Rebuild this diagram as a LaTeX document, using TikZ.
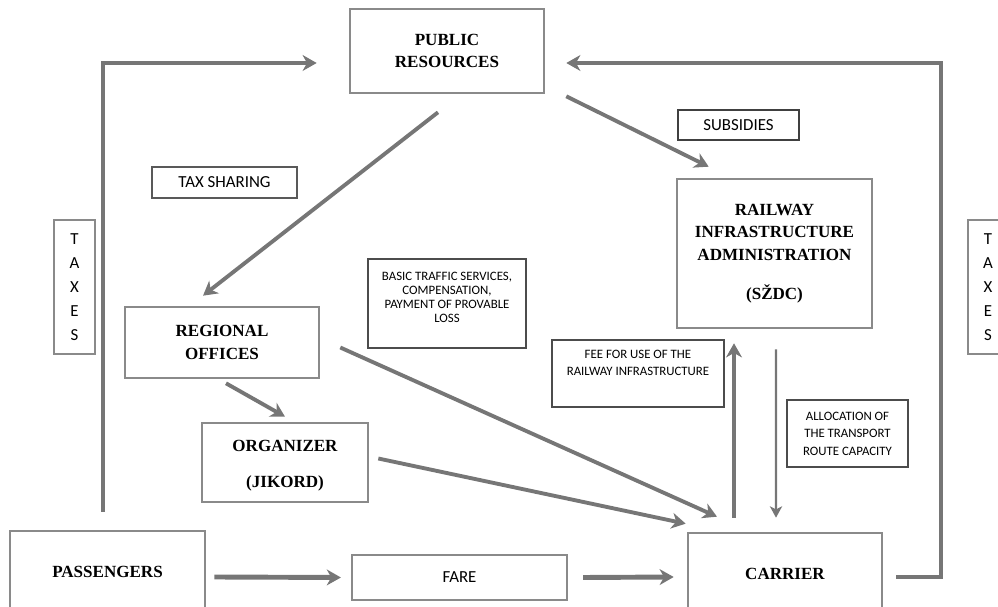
\documentclass[tikz,border=0pt]{standalone}
\usepackage{fontspec}
\setmainfont{Liberation Serif}
\newfontfamily\lblfont{Carlito}
\usetikzlibrary{arrows.meta}
\definecolor{boxgray}{RGB}{138,138,138}
\definecolor{linegray}{RGB}{118,118,118}
\tikzset{
 actor/.style={draw=boxgray,line width=1.5pt,align=center,inner sep=0pt,
  font=\bfseries\fontsize{9.7}{13}\selectfont},
 note/.style={draw=black!70,line width=0.6pt,align=center,inner sep=0pt,
  font=\lblfont\fontsize{7.3}{10}\selectfont},
 tag/.style={draw=black!75,line width=0.8pt,align=center,inner sep=0pt,
  font=\lblfont\fontsize{9.6}{13.6}\selectfont},
 flow/.style={draw=linegray,line width=2.2pt,-{Stealth[length=8pt,width=9pt,inset=2.5pt]}},
 route/.style={flow,line width=1.8pt},
 thinflow/.style={draw=linegray,line width=1.2pt,-{Stealth[length=6.5pt,width=7pt,inset=1.8pt]}},
}
\begin{document}
\begin{tikzpicture}[x=0.02cm,y=-0.02cm]
 \useasboundingbox (0,0) rectangle (998,607);
 \clip (0,0) rectangle (998,607);
 \node[actor,minimum width=3.88cm,minimum height=1.68cm] (pub) at (447,51) {PUBLIC\\RESOURCES};
 \node[tag,minimum width=2.42cm,minimum height=0.6cm] (subs) at (738.5,125) {SUBSIDIES};
 \node[tag,draw=black!65,line width=1.2pt,minimum width=2.9cm,minimum height=0.62cm] (taxshare) at (224.5,182.5) {TAX SHARING};
 \node[actor,minimum width=3.9cm,minimum height=2.98cm] (rail) at (774.5,253.5)
  {RAILWAY\\INFRASTRUCTURE\\ADMINISTRATION\\[9pt](SŽDC)};
 \node[tag,draw=boxgray,line width=1.5pt,minimum width=0.82cm,minimum height=2.68cm] (taxl) at (74.5,287) {T\\A\\X\\E\\S};
 \node[tag,draw=boxgray,line width=1.5pt,minimum width=0.8cm,minimum height=2.68cm] (taxr) at (988,287) {T\\A\\X\\E\\S};
 \node[note,font=\lblfont\fontsize{7.3}{8.1}\selectfont,minimum width=3.16cm,minimum height=1.78cm] (basic) at (447,303.5)
  {BASIC TRAFFIC SERVICES,\\COMPENSATION,\\PAYMENT OF PROVABLE\\LOSS\\[-1pt]\mbox{}};
 \node[actor,minimum width=3.88cm,minimum height=1.42cm] (reg) at (222,342.5) {REGIONAL\\OFFICES};
 \node[note,minimum width=3.44cm,minimum height=1.34cm] (fee) at (638,373.5)
  {FEE FOR USE OF THE\\RAILWAY INFRASTRUCTURE\\[2pt]\mbox{}};
 \node[note,minimum width=2.42cm,minimum height=1.34cm] (alloc) at (847.5,433.5)
  {ALLOCATION OF\\THE TRANSPORT\\ROUTE CAPACITY};
 \node[actor,minimum width=3.32cm,minimum height=1.58cm] (org) at (285,462.5)
  {\mbox{}\\[-3pt]ORGANIZER\\[8pt](JIKORD)};
 \node[actor,minimum width=3.9cm,minimum height=1.64cm] (pass) at (107.5,572) {PASSENGERS};
 \node[tag,draw=boxgray,line width=1.3pt,minimum width=4.3cm,minimum height=0.9cm] (fare) at (459.5,577.5) {FARE};
 \node[actor,minimum width=3.88cm,minimum height=1.64cm] (carr) at (785,574) {CARRIER};
 \coordinate (rt) at (941,63);
 \draw[route] ([shift={(-4.5,-18)}]pass.north) |- ([shift={(-32,12)}]pub.west);
 \draw[route] ([shift={(13,3)}]carr.east) -| (rt) -- ([shift={(21,12)}]pub.east);
 \draw[flow] ([shift={(-9,18)}]pub.south) -- ([shift={(-19,-10)}]reg.north);
 \draw[flow] ([shift={(21,2)}]pub.south east) -- ([shift={(33,-11)}]rail.north west);
 \draw[flow] ([shift={(4,4)}]reg.south) -- ([shift={(0,-5)}]org.north);
 \draw[flow] ([shift={(20,5)}]reg.east) -- ([shift={(-68,-15)}]carr.north);
 \draw[flow] ([shift={(9,-4)}]org.east) -- ([shift={(-1,-8)}]carr.north west);
 \draw[route] ([shift={(-51,-14)}]carr.north) -- ([shift={(-40.5,14)}]rail.south);
 \draw[thinflow] ([shift={(1.5,20)}]rail.south) -- ([shift={(-9,-14)}]carr.north);
 \draw[flow,line width=2.8pt] ([shift={(8,5)}]pass.east) -- ([shift={(-10,0)}]fare.west);
 \draw[flow,line width=2.8pt] ([shift={(15,0)}]fare.east) -- ([shift={(-13,3)}]carr.west);
\end{tikzpicture}
\end{document}
